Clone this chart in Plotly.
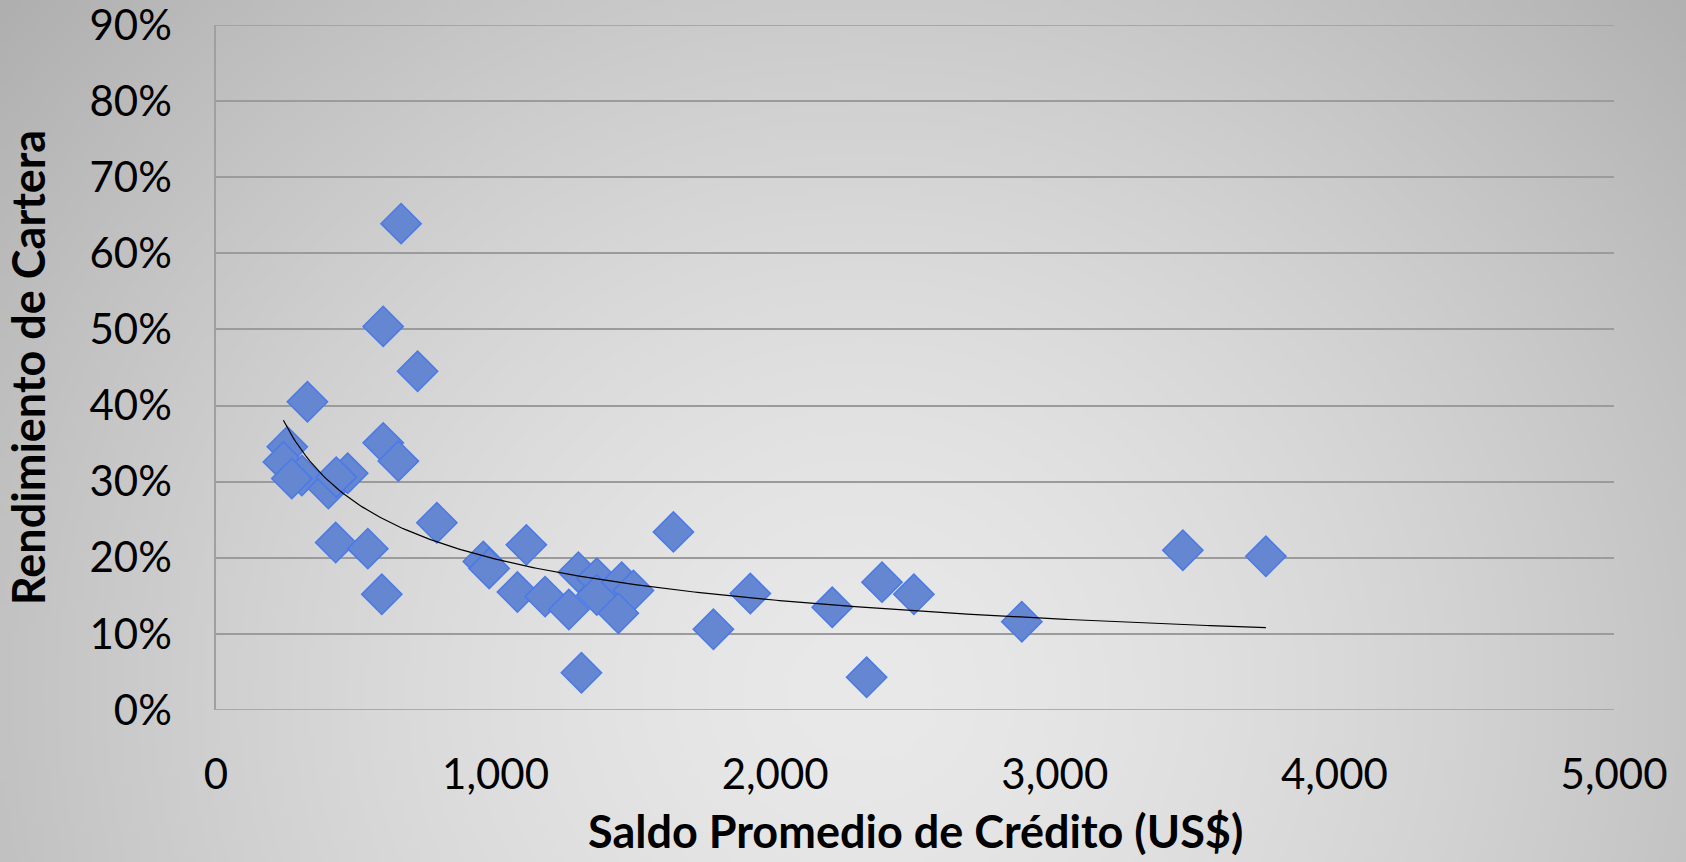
import base64
import struct
import zlib

import numpy as np
import plotly.graph_objects as go

# ---------------- data ----------------
saldo_promedio = [662, 598, 721, 327, 598, 652, 255, 241, 307, 271,
                  402, 471, 430, 428, 543, 593, 790, 956, 977, 1110,
                  1078, 1177, 1262, 1296, 1362, 1362, 1451, 1493, 1439, 1307,
                  1636, 1779, 1911, 2204, 2382, 2496, 2327, 2882, 3458, 3755]
rendimiento = [0.639, 0.504, 0.445, 0.405, 0.351, 0.327, 0.346, 0.326, 0.308, 0.304,
               0.291, 0.311, 0.306, 0.220, 0.212, 0.152, 0.246, 0.195, 0.186, 0.217,
               0.155, 0.149, 0.132, 0.181, 0.173, 0.151, 0.168, 0.157, 0.127, 0.049,
               0.234, 0.106, 0.153, 0.135, 0.168, 0.152, 0.043, 0.116, 0.210, 0.202]

x_ticks = [0, 1000, 2000, 3000, 4000, 5000]
x_tick_labels = ["0", "1,000", "2,000", "3,000", "4,000", "5,000"]
y_ticks = [0, 0.1, 0.2, 0.3, 0.4, 0.5, 0.6, 0.7, 0.8, 0.9]
y_tick_labels = ["0%", "10%", "20%", "30%", "40%", "50%", "60%", "70%", "80%", "90%"]

x_title = "Saldo Promedio de Crédito (US$)"
y_title = "Rendimiento de Cartera"

# ---------------- power trendline (least squares on logs, as Excel) ----------------
lx = np.log(np.array(saldo_promedio, dtype=float))
ly = np.log(np.array(rendimiento, dtype=float))
b, ln_a = np.polyfit(lx, ly, 1)
trend_x = np.linspace(min(saldo_promedio), max(saldo_promedio), 300)
trend_y = np.exp(ln_a) * trend_x ** b

# ---------------- layout geometry ----------------
W, H = 1686, 862
ML, MR, MT, MB = 216, 72, 25, 152
PW, PH = W - ML - MR, H - MT - MB


# ---------------- radial gradient background as PNG ----------------
def gradient_png(w, h):
    ys, xs = np.mgrid[0:h, 0:w].astype(float)
    px = xs * (W / w)
    py = ys * (H / h)
    d = np.sqrt(((px - 860) / 880.0) ** 2 + ((py - 690) / 830.0) ** 2)
    c = 233 - 40 * np.power(d, 1.5)
    c = np.clip(c, 170, 235).astype(np.uint8)
    rgb = np.stack([c, c, c], axis=-1)
    raw = b"".join(b"\x00" + rgb[r].tobytes() for r in range(h))

    def chunk(tag, data):
        out = struct.pack(">I", len(data)) + tag + data
        return out + struct.pack(">I", zlib.crc32(tag + data) & 0xFFFFFFFF)

    png = b"\x89PNG\r\n\x1a\n"
    png += chunk(b"IHDR", struct.pack(">IIBBBBB", w, h, 8, 2, 0, 0, 0))
    png += chunk(b"IDAT", zlib.compress(raw, 9))
    png += chunk(b"IEND", b"")
    return "data:image/png;base64," + base64.b64encode(png).decode()


bg_src = gradient_png(422, 216)

FONT = "Lato"
GRID = "rgb(155,155,155)"

fig = go.Figure()

fig.add_trace(go.Scatter(
    x=saldo_promedio, y=rendimiento, mode="markers",
    marker=dict(symbol="diamond", size=31, color="rgb(101,134,208)",
                line=dict(color="rgb(74,122,232)", width=1.5)),
    showlegend=False, hoverinfo="x+y",
))

fig.add_trace(go.Scatter(
    x=trend_x, y=trend_y, mode="lines",
    line=dict(color="black", width=1.2),
    showlegend=False, hoverinfo="skip",
))

# grid lines at the two range ends (Plotly drops grid lines lying on the plot edges)
for yv in (y_ticks[0], y_ticks[-1]):
    fig.add_shape(type="line", xref="paper", yref="y", x0=0, x1=1, y0=yv, y1=yv,
                  line=dict(color=GRID, width=1.5), layer="below")

# x-axis title placed as an annotation, kept fully inside the figure
fig.add_annotation(
    text="<b>" + x_title + "</b>", xref="paper", yref="paper", x=0.5, y=0,
    xanchor="center", yanchor="middle", yshift=-121, showarrow=False,
    font=dict(size=45, family=FONT, color="black"),
)

fig.update_layout(
    width=W, height=H,
    margin=dict(l=ML, r=MR, t=MT, b=MB, pad=0),
    paper_bgcolor="rgb(215,215,215)",
    plot_bgcolor="rgba(0,0,0,0)",
    font=dict(family=FONT, color="black"),
    images=[dict(
        source=bg_src, xref="paper", yref="paper",
        x=-ML / PW, y=1 + MT / PH, sizex=W / PW, sizey=H / PH,
        xanchor="left", yanchor="top", sizing="stretch", layer="below",
    )],
    xaxis=dict(
        range=[0, 5000], tickvals=x_ticks, ticktext=x_tick_labels,
        showgrid=False, zeroline=False, showline=False,
        ticks="outside", ticklen=28, tickcolor="rgba(0,0,0,0)",
        tickfont=dict(size=42, family=FONT, color="black"),
        ticklabeloverflow="allow",
        automargin=False,
        fixedrange=True,
    ),
    yaxis=dict(
        range=[0, 0.9], tickvals=y_ticks, ticktext=y_tick_labels,
        showgrid=True, gridcolor=GRID, gridwidth=1.5,
        zeroline=False, showline=True, linecolor="rgb(160,160,160)", linewidth=1.5,
        ticks="outside", ticklen=34, tickcolor="rgba(0,0,0,0)",
        tickfont=dict(size=42, family=FONT, color="black"),
        ticklabeloverflow="allow",
        title=dict(text="<b>" + y_title + "</b>",
                   font=dict(size=45, family=FONT, color="black"), standoff=30),
        automargin=False,
        fixedrange=True,
    ),
)

fig.write_html("out.html",
               config={"displayModeBar": False},
               post_script="document.body.style.margin='0';"
                           "document.body.style.overflow='hidden';")
